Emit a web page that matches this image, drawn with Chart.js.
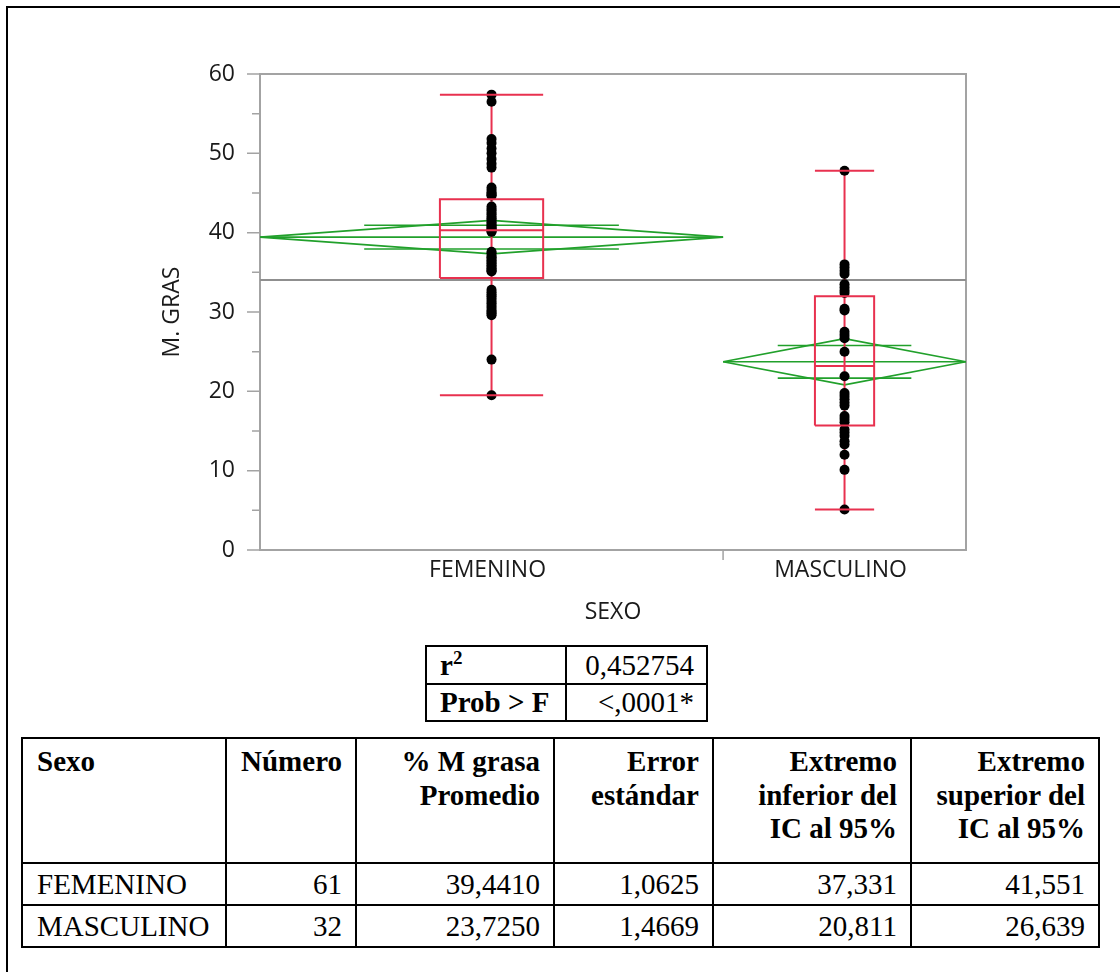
<!DOCTYPE html>
<html>
<head>
<meta charset="utf-8">
<script src="https://cdn.jsdelivr.net/npm/chart.js@4.4.1/dist/chart.umd.min.js"></script>
<style>
  html, body { margin: 0; padding: 0; background: #fff; }
  body { width: 1120px; height: 972px; position: relative; overflow: hidden; }
  #frame { position: absolute; left: 6px; top: 6px; width: 1200px; height: 1200px;
           border-left: 2px solid #000; border-top: 2px solid #000; }
  #plot { position: absolute; left: 0; top: 0; }
  table { position: absolute; border-collapse: collapse; table-layout: fixed;
          font-family: "Liberation Serif", "Times New Roman", serif; font-size: 29px; color: #000; }
  td, th { border: 2px solid #000; box-sizing: border-box; white-space: nowrap; }
  #fit { left: 425px; top: 645px; }
  #fit td { padding: 0 12px 0 13px; line-height: 33px; }
  #fit td.k { font-weight: bold; text-align: left; }
  #fit td.v { text-align: right; }
  #fit sup { font-size: 19px; line-height: 0; vertical-align: 11px; }
  #stats { left: 21px; top: 737px; }
  #stats th { font-weight: bold; vertical-align: top; text-align: right;
              line-height: 33.5px; padding: 6px 13px 0 14px; }
  #stats td { text-align: right; padding: 0 13px 0 14px; line-height: 38px; }
  #stats th:first-child, #stats td:first-child { text-align: left; }
</style>
</head>
<body>
<div id="frame"></div>
<canvas id="plot" width="1120" height="640"></canvas>
<table id="fit"></table>
<table id="stats"></table>
<script>
// ---- data -------------------------------------------------------------
const categories = ['FEMENINO', 'MASCULINO'];
const groupCounts = [61, 32];

// % masa grasa por individuo
const femenino = [
  57.4, 56.5,
  51.8, 51.3, 50.6, 50.0, 49.3, 48.7, 48.2,
  45.7, 45.4, 45.1, 44.9, 44.7, 44.7,
  43.3, 43.0, 42.8, 42.5, 42.3, 42.0, 41.8, 41.6, 41.3, 41.1, 40.9, 40.7, 40.6, 40.4, 40.3, 40.2, 40.1,
  37.6, 37.4, 37.1, 36.9, 36.7, 36.5, 36.3, 36.1, 35.9, 35.7, 35.5, 35.3, 35.2, 35.1,
  32.8, 32.5, 32.2, 32.0, 31.7, 31.4, 31.1, 30.8, 30.5, 30.2, 30.0, 29.8, 29.6,
  24.0, 19.5
];
const masculino = [
  47.8,
  36.0, 35.6, 35.2, 34.8, 33.5, 33.1, 32.7, 32.4,
  30.4, 30.2,
  27.5, 27.1, 26.7, 25.0, 21.9,
  19.8, 19.4, 19.0, 18.6, 18.2,
  16.9, 16.5, 16.1,
  15.2, 14.8, 14.4, 13.7, 13.3,
  12.0, 10.1, 5.1
];
const groupValues = [femenino, masculino];

// medias, error estándar e IC al 95%
const means = [39.4410, 23.7250];
const stdErrors = [1.0625, 1.4669];
const ciLower = [37.331, 20.811];
const ciUpper = [41.551, 26.639];

// cuantiles del diagrama de caja
const boxQ1 = [34.3, 15.7];
const boxMedian = [40.3, 23.2];
const boxQ3 = [44.2, 32.0];

const rSquare = '0,452754';
const probF = '<,0001*';

const yTickLabels = [0, 10, 20, 30, 40, 50, 60];

// ---- styles -----------------------------------------------------------
const AXIS_GREY = '#a3a3a3';
const MEAN_GREY = '#8f8f8f';
const BOX_RED = '#e8314f';
const DIAMOND_GREEN = '#21a02b';
const TEXT = '#1a1a1a';
const AXIS_FONT = { family: '"Open Sans", "Noto Sans", sans-serif', size: 23 };
const BOX_HALF_WIDTH = [6.8, 3.9];      // in x-axis units (observations)
const OVERLAP_SPAN = 0.55;              // share of the diamond half-width

// ---- derived geometry on the proportional x axis -------------------------
const total = groupCounts.reduce((a, b) => a + b, 0);
const starts = [], ends = [], centers = [];
groupCounts.reduce((acc, n, i) => { starts[i] = acc; ends[i] = acc + n; centers[i] = acc + n / 2; return acc + n; }, 0);
const grandMean = means.reduce((s, m, i) => s + m * groupCounts[i], 0) / total;
const yMinorTicks = yTickLabels.slice(0, -1).map((v, i) => (v + yTickLabels[i + 1]) / 2);

const line = (data, color, width, order) => ({
  type: 'scatter', data, showLine: true, borderColor: color, borderWidth: width,
  pointRadius: 0, fill: false, tension: 0, order
});

const datasets = [];
// grand mean
datasets.push(line([{ x: 0, y: grandMean }, { x: total, y: grandMean }], MEAN_GREY, 2, 6));

categories.forEach((c, i) => {
  const m = means[i], lo = ciLower[i], hi = ciUpper[i];
  const s = starts[i], e = ends[i], cx = centers[i];
  // means diamond
  datasets.push(line([{ x: s, y: m }, { x: cx, y: hi }, { x: e, y: m }, { x: cx, y: lo }, { x: s, y: m }], DIAMOND_GREEN, 1.6, 5));
  datasets.push(line([{ x: s, y: m }, { x: e, y: m }], DIAMOND_GREEN, 1.6, 5));
  const ov = (hi - m) / Math.SQRT2, hw = (e - s) / 2 * OVERLAP_SPAN;
  datasets.push(line([{ x: cx - hw, y: m + ov }, { x: cx + hw, y: m + ov }], DIAMOND_GREEN, 1.6, 5));
  datasets.push(line([{ x: cx - hw, y: m - ov }, { x: cx + hw, y: m - ov }], DIAMOND_GREEN, 1.6, 5));

  const vals = groupValues[i];
  const vmin = Math.min(...vals), vmax = Math.max(...vals);
  const bw = BOX_HALF_WIDTH[i];
  // whisker stem (under the points)
  datasets.push(line([{ x: cx, y: vmin }, { x: cx, y: vmax }], BOX_RED, 2, 4));
  // observations
  datasets.push({
    type: 'scatter', data: vals.map(v => ({ x: cx, y: v })),
    pointRadius: 5, pointBackgroundColor: '#000', pointBorderWidth: 0, borderWidth: 0, order: 2
  });
  // box, median and whisker caps (over the points)
  datasets.push(line([{ x: cx - bw, y: boxQ1[i] }, { x: cx + bw, y: boxQ1[i] }, { x: cx + bw, y: boxQ3[i] },
                      { x: cx - bw, y: boxQ3[i] }, { x: cx - bw, y: boxQ1[i] }], BOX_RED, 2, 1));
  datasets.push(line([{ x: cx - bw, y: boxMedian[i] }, { x: cx + bw, y: boxMedian[i] }], BOX_RED, 2, 1));
  datasets.push(line([{ x: cx - bw, y: vmax }, { x: cx + bw, y: vmax }], BOX_RED, 2, 1));
  datasets.push(line([{ x: cx - bw, y: vmin }, { x: cx + bw, y: vmin }], BOX_RED, 2, 1));
});

// frame of the plot area and axis tick marks
const plotFrame = {
  id: 'plotFrame',
  beforeDatasetsDraw(chart) {
    const { ctx, chartArea: a, scales: { x, y } } = chart;
    ctx.save();
    ctx.strokeStyle = AXIS_GREY;
    ctx.lineWidth = 2;
    ctx.strokeRect(a.left, a.top, a.right - a.left, a.bottom - a.top);
    ctx.lineWidth = 1.5;
    ctx.beginPath();
    yTickLabels.forEach(v => { const py = y.getPixelForValue(v); ctx.moveTo(a.left - 13, py); ctx.lineTo(a.left, py); });
    yMinorTicks.forEach(v => { const py = y.getPixelForValue(v); ctx.moveTo(a.left - 8, py); ctx.lineTo(a.left, py); });
    ends.slice(0, -1).forEach(v => { const px = x.getPixelForValue(v); ctx.moveTo(px, a.bottom); ctx.lineTo(px, a.bottom + 10); });
    ctx.stroke();
    ctx.restore();
  }
};

new Chart(document.getElementById('plot'), {
  type: 'scatter',
  data: { datasets },
  options: {
    responsive: false,
    animation: false,
    events: [],
    layout: { padding: { left: 159, top: 74, right: 154, bottom: 0 } },
    plugins: { legend: { display: false }, tooltip: { enabled: false } },
    scales: {
      x: {
        type: 'linear', min: 0, max: total,
        afterBuildTicks: s => { s.ticks = centers.map(v => ({ value: v })); },
        ticks: { callback: (v, i) => categories[i], font: AXIS_FONT, color: TEXT, padding: -3, labelOffset: -4,
                 maxRotation: 0, autoSkip: false },
        grid: { drawOnChartArea: false, tickLength: 10, tickColor: 'rgba(0,0,0,0)' },
        border: { display: false },
        title: { display: true, text: 'SEXO', font: AXIS_FONT, color: TEXT, padding: { top: 0, bottom: 14 } },
        afterFit: s => { s.height = 90; }
      },
      y: {
        type: 'linear', min: 0, max: 60,
        afterBuildTicks: s => { s.ticks = yTickLabels.map(v => ({ value: v })); },
        ticks: { callback: v => String(v), font: AXIS_FONT, color: TEXT, padding: 12 },
        grid: { drawOnChartArea: false, tickLength: 13, tickColor: 'rgba(0,0,0,0)' },
        border: { display: false },
        title: { display: true, text: 'M. GRAS', font: AXIS_FONT, color: TEXT, padding: { top: 0, bottom: 0 } },
        afterFit: s => { s.width = 101; }
      }
    }
  },
  plugins: [plotFrame]
});

// ---- tables -------------------------------------------------------------
const comma = (v, d) => v.toFixed(d).replace('.', ',');

document.getElementById('fit').innerHTML =
  '<colgroup><col style="width:140px"><col style="width:141px"></colgroup>' +
  '<tr style="height:38px"><td class="k">r<sup>2</sup></td><td class="v">' + rSquare + '</td></tr>' +
  '<tr style="height:37px"><td class="k">Prob &gt; F</td><td class="v">' + probF.replace('<', '&lt;') + '</td></tr>';

const headers = ['Sexo', 'Número', '% M grasa<br>Promedio', 'Error<br>estándar',
                 'Extremo<br>inferior del<br>IC al 95%', 'Extremo<br>superior del<br>IC al 95%'];
const colWidths = [204, 130, 198, 159, 198, 188];
let html = '<colgroup>' + colWidths.map(w => '<col style="width:' + w + 'px">').join('') + '</colgroup>';
html += '<tr style="height:125px">' + headers.map(h => '<th>' + h + '</th>').join('') + '</tr>';
categories.forEach((c, i) => {
  html += '<tr style="height:42px"><td>' + c + '</td><td>' + groupCounts[i] + '</td><td>' + comma(means[i], 4) +
          '</td><td>' + comma(stdErrors[i], 4) + '</td><td>' + comma(ciLower[i], 3) + '</td><td>' + comma(ciUpper[i], 3) + '</td></tr>';
});
document.getElementById('stats').innerHTML = html;
</script>
</body>
</html>
